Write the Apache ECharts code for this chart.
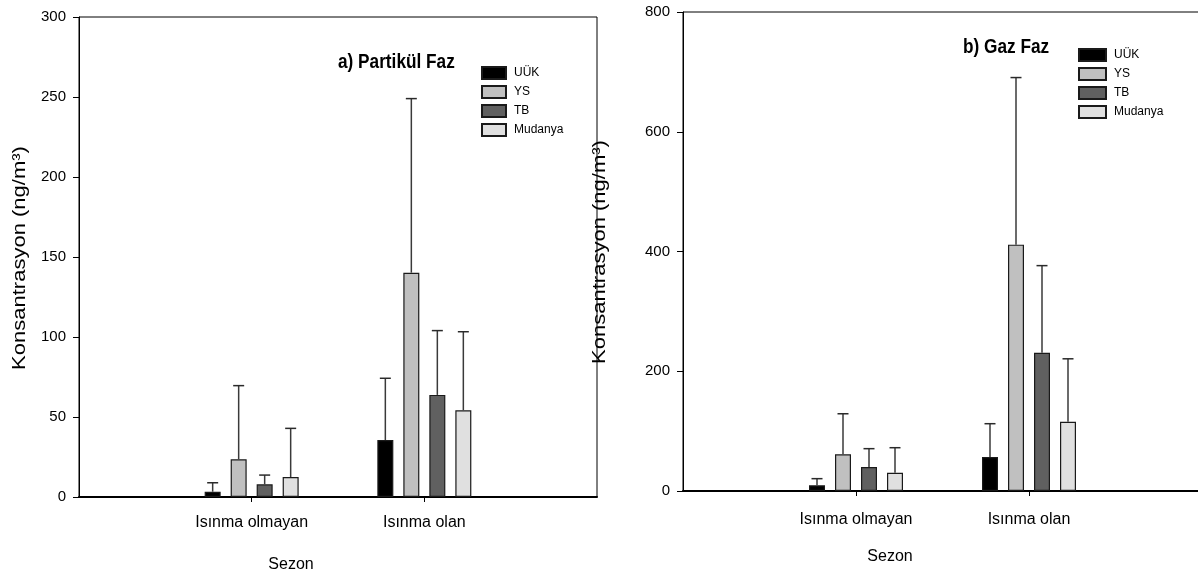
<!DOCTYPE html>
<html>
<head>
<meta charset="utf-8">
<script src="https://cdn.jsdelivr.net/npm/echarts@6/dist/echarts.min.js"></script>
<style>
  html, body { margin: 0; padding: 0; background: #fff; }
  #chart { width: 1198px; height: 574px; }
</style>
</head>
<body>
<div id="chart"></div>
<script>
// ---- Data ----
const categories = ['Isınma olmayan', 'Isınma olan'];
const stations = ['UÜK', 'YS', 'TB', 'Mudanya'];

// a) Partikül Faz : bar means and error-bar upper ends (ng/m3)
const partUUK = [3.3, 35.6];
const partUUKUp = [8.9, 74.2];
const partYS = [23.6, 140.2];
const partYSUp = [69.6, 249];
const partTB = [7.9, 63.8];
const partTBUp = [13.7, 104];
const partMud = [12.5, 54.2];
const partMudUp = [42.9, 103.3];

// b) Gaz Faz
const gasUUK = [9.5, 56.7];
const gasUUKUp = [20.6, 112.4];
const gasYS = [61.2, 411.4];
const gasYSUp = [129, 690.5];
const gasTB = [40, 230.8];
const gasTBUp = [70.7, 376.4];
const gasMud = [30.6, 115.7];
const gasMudUp = [72.3, 220.8];

// axis ticks
const partTicks = [0, 50, 100, 150, 200, 250, 300];
const gasTicks = [0, 200, 400, 600, 800];

const titles = ['a) Partikül Faz', 'b) Gaz Faz'];
const yName = 'Konsantrasyon (ng/m³)';
const xName = 'Sezon';

// ---- Styles ----
const colors = ['#000000', '#c0c0c0', '#606060', '#e0e0e0'];
const REG = "'Liberation Sans', Arial, sans-serif";
const BAR_W = 16;
const GAP_PX = 10;

const chart = echarts.init(document.getElementById('chart'), null, { renderer: 'canvas' });

const panels = [
  { means: [partUUK, partYS, partTB, partMud], ups: [partUUKUp, partYSUp, partTBUp, partMudUp], ticks: partTicks,
    grid: { left: 79, top: 17, width: 518, height: 480 }, labelMargin: 18 },
  { means: [gasUUK, gasYS, gasTB, gasMud], ups: [gasUUKUp, gasYSUp, gasTBUp, gasMudUp], ticks: gasTicks,
    grid: { left: 683, top: 12, width: 519, height: 479 }, labelMargin: 21 }
];

const axisCats = [''].concat(categories).concat(['']);

const grids = [], xAxes = [], yAxes = [], series = [];
panels.forEach((p, gi) => {
  grids.push(Object.assign({
    show: true, borderColor: '#000', borderWidth: 1, backgroundColor: 'transparent',
    containLabel: false, outerBoundsMode: 'none'
  }, p.grid));
  xAxes.push({
    gridIndex: gi, type: 'category', data: axisCats, boundaryGap: false,
    axisLine: { lineStyle: { color: '#000', width: 2 } },
    axisTick: { show: true, length: 5, interval: (i) => i > 0 && i <= categories.length, lineStyle: { color: '#000' } },
    axisLabel: { interval: 0, margin: p.labelMargin, fontSize: 16, fontFamily: REG, color: '#000' },
    splitLine: { show: false }
  });
  const step = p.ticks[1] - p.ticks[0];
  yAxes.push({
    gridIndex: gi, type: 'value', min: p.ticks[0], max: p.ticks[p.ticks.length - 1], interval: step,
    axisLine: { show: true, lineStyle: { color: '#000', width: 1 } },
    axisTick: { show: true, length: 6, lineStyle: { color: '#000' } },
    axisLabel: { fontSize: 15, fontFamily: REG, color: '#000', margin: 13 },
    splitLine: { show: false }
  });
  stations.forEach((s, si) => {
    series.push({
      type: 'bar', name: s, xAxisIndex: gi, yAxisIndex: gi,
      data: [null].concat(p.means[si]).concat([null]),
      barWidth: BAR_W, barGap: (GAP_PX / BAR_W * 100) + '%',
      itemStyle: { color: colors[si], borderColor: '#1a1a1a', borderWidth: 1.2 },
      z: 2
    });
    const off = (si - (stations.length - 1) / 2) * (BAR_W + GAP_PX);
    series.push({
      type: 'custom', name: 'err-' + gi + '-' + si, xAxisIndex: gi, yAxisIndex: gi,
      data: p.means[si].map((m, ci) => [ci + 1, m, p.ups[si][ci]]),
      encode: { x: 0, y: [1, 2] },
      z: 3,
      renderItem: (params, api) => {
        const c = api.value(0);
        const a = api.coord([c, api.value(1)]);
        const b = api.coord([c, api.value(2)]);
        const x = a[0] + off;
        return {
          type: 'group',
          children: [
            { type: 'line', shape: { x1: x, y1: a[1], x2: x, y2: b[1] }, style: { stroke: '#3a3a3a', lineWidth: 1.5 } },
            { type: 'line', shape: { x1: x - 5.5, y1: b[1], x2: x + 5.5, y2: b[1] }, style: { stroke: '#2a2a2a', lineWidth: 1.5 } }
          ]
        };
      }
    });
  });
});

const legendBase = {
  orient: 'vertical', icon: 'rect', itemHeight: 12, itemGap: 5, data: stations, selectedMode: false, padding: 0,
  textStyle: { fontSize: 12, lineHeight: 12, fontFamily: REG, color: '#000', padding: [0, 0, 0, 3] }
};

chart.setOption({
  animation: false,
  backgroundColor: '#fff',
  legend: [
    Object.assign({}, legendBase, { left: 481, top: 66, itemWidth: 24 }),
    Object.assign({}, legendBase, { left: 1078, top: 48, itemWidth: 27 })
  ],
  grid: grids,
  xAxis: xAxes,
  yAxis: yAxes,
  series: series,
  graphic: [
    { type: 'text', x: 338, y: 62, scaleX: 0.82, style: { text: titles[0], fontSize: 21, fontWeight: 'bold', fontFamily: REG, fill: '#000', textAlign: 'left', textVerticalAlign: 'middle' } },
    { type: 'text', x: 963, y: 47, scaleX: 0.82, style: { text: titles[1], fontSize: 21, fontWeight: 'bold', fontFamily: REG, fill: '#000', textAlign: 'left', textVerticalAlign: 'middle' } },
    { type: 'text', x: 20, y: 258, rotation: Math.PI / 2, scaleY: 0.82, style: { text: yName, fontSize: 22, fontFamily: REG, fill: '#000', textAlign: 'center', textVerticalAlign: 'middle' } },
    { type: 'text', x: 600, y: 252, rotation: Math.PI / 2, scaleY: 0.82, style: { text: yName, fontSize: 22, fontFamily: REG, fill: '#000', textAlign: 'center', textVerticalAlign: 'middle' } },
    { type: 'text', x: 291, y: 565, style: { text: xName, fontSize: 16, fontFamily: REG, fill: '#000', textAlign: 'center', textVerticalAlign: 'middle' } },
    { type: 'text', x: 890, y: 557, style: { text: xName, fontSize: 16, fontFamily: REG, fill: '#000', textAlign: 'center', textVerticalAlign: 'middle' } }
  ]
});
</script>
</body>
</html>
